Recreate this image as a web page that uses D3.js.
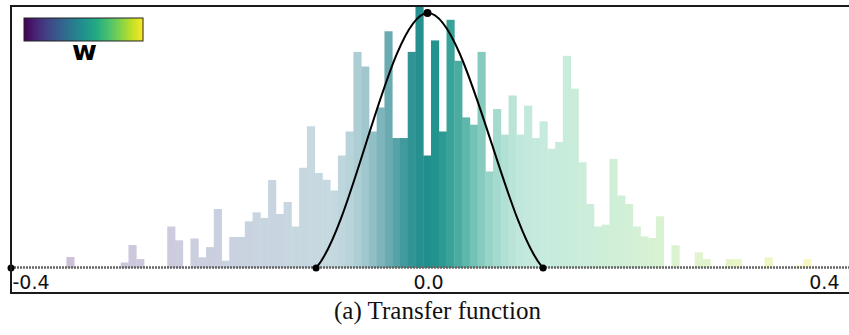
<!DOCTYPE html>
<html><head><meta charset="utf-8">
<script src="https://cdn.jsdelivr.net/npm/d3@7"></script>
<style>
html,body{margin:0;padding:0;background:#fff;}
svg{display:block;}
</style></head><body>
<svg id="chart" width="849" height="335"></svg>
<script>
// Histogram of the weights w, coloured by value and shaded by the transfer function.
const binStart = -0.3468;   // left edge of the first bin
const binWidth = 0.00745;   // bin width in w units
const counts = [
  4.2, 0, 0, 0, 0, 0, 0, 2.1, 8.8, 3.4,
  0, 0, 0, 15.9, 10.6, 0, 11.3, 4.1, 8.0, 22.6,
  2.8, 11.9, 11.9, 17.9, 21.3, 19.2, 33.7, 20.7, 25.3, 15.9,
  38.4, 54.3, 36.4, 33.8, 29.7, 43.1, 52.3, 82.8, 77.2, 52.3,
  61.5, 90.7, 49.8, 49.8, 82.8, 100, 43.1, 87.2, 52.3, 95.1,
  79.4, 57.7, 54.9, 82.8, 37.0, 60.9, 51.1, 66.1, 51.1, 62.2,
  49.8, 56.2, 45.7, 48.3, 81.3, 68.7, 40.5, 24.5, 15.9, 16.6,
  41.8, 27.8, 24.5, 15.9, 12.1, 11.5, 19.8, 0, 8.7, 0,
  0, 6.0, 3.4, 0, 0, 3.4, 3.4, 0, 0, 0,
  4.1, 0, 0, 0, 1.0, 3.4
];
// Transfer function control points (w, opacity)
const tfX = [-0.4, -0.107, 0.0, 0.111, 0.4];
const tfY = [0, 0, 1, 0, 0];
const tickValues = [-0.4, 0.0, 0.4];
const tickLabels = ["-0.4", "0.0", "0.4"];
const legendLabel = "w";
const caption = "(a) Transfer function";

// Cubic Hermite curve whose tangents are the mean of the neighbouring secants
function curveHermite(context) {
  let xs = [], ys = [];
  return {
    areaStart() {}, areaEnd() {},
    lineStart() { xs = []; ys = []; },
    point(px, py) { xs.push(+px); ys.push(+py); },
    lineEnd() {
      const n = xs.length;
      if (!n) return;
      const sec = d3.range(n - 1).map(i => (ys[i + 1] - ys[i]) / (xs[i + 1] - xs[i]));
      const m = xs.map((_, i) => i === 0 ? sec[0] : i === n - 1 ? sec[n - 2] : (sec[i - 1] + sec[i]) / 2);
      context.moveTo(xs[0], ys[0]);
      for (let i = 0; i < n - 1; i++) {
        const h = (xs[i + 1] - xs[i]) / 3;
        context.bezierCurveTo(xs[i] + h, ys[i] + h * m[i],
                              xs[i + 1] - h, ys[i + 1] - h * m[i + 1],
                              xs[i + 1], ys[i + 1]);
      }
    }
  };
}

const svg = d3.select("#chart");
const x = d3.scaleLinear().domain([-0.4, 0.4]).range([11, 844]);
const y = d3.scaleLinear().domain([0, 100]).range([268, 7]);
const yTf = d3.scaleLinear().domain([0, 1]).range([268, 13]);
const colorT = d3.scaleLinear().domain([-0.4, 0.4]).range([0, 1]).clamp(true);

const tfPts = tfX.map((v, i) => [v, tfY[i]]);
const tfLine = d3.line().x(d => x(d[0])).y(d => yTf(d[1])).curve(curveHermite);

// Sample the curve so each bar can be shaded by the transfer function value
const tmp = svg.append("path").attr("d", tfLine(tfPts)).attr("fill", "none");
const node = tmp.node();
const L = node.getTotalLength();
const samples = d3.range(0, 1601).map(i => node.getPointAtLength(L * i / 1600));
tmp.remove();
function tfAt(px) {
  if (px <= x(tfX[1]) || px >= x(tfX[3])) return 0;
  for (let j = 0; j < samples.length - 1; j++) {
    const a = samples[j], b = samples[j + 1];
    if (px >= a.x && px <= b.x) {
      const t = b.x === a.x ? 0 : (px - a.x) / (b.x - a.x);
      return Math.max(0, yTf.invert(a.y + t * (b.y - a.y)));
    }
  }
  return 0;
}

// Bars
const bins = counts.map((c, i) => ({
  x0: binStart + i * binWidth,
  x1: binStart + (i + 1) * binWidth,
  c
}));
svg.append("g").selectAll("rect").data(bins.filter(d => d.c > 0)).join("rect")
  .attr("x", d => x(d.x0))
  .attr("width", d => x(d.x1) - x(d.x0) + 0.4)
  .attr("y", d => y(d.c))
  .attr("height", d => y(0) - y(d.c))
  .attr("fill", d => {
    const mid = (d.x0 + d.x1) / 2;
    const v = tfAt(x(mid));
    const a = 0.27 + 0.73 * v * v;
    return d3.interpolateRgb("#ffffff", d3.interpolateViridis(colorT(mid)))(a);
  });

// Baseline
svg.append("line")
  .attr("x1", x(-0.4)).attr("x2", 849)
  .attr("y1", 267.5).attr("y2", 267.5)
  .attr("stroke", "#666").attr("stroke-width", 2.5)
  .attr("stroke-dasharray", "2 1");

// Transfer function curve (the raised part between its zero points)
svg.append("defs").append("clipPath").attr("id", "bellClip")
  .append("rect")
  .attr("x", x(tfX[1])).attr("y", 0)
  .attr("width", x(tfX[3]) - x(tfX[1])).attr("height", 267);
svg.append("path")
  .attr("d", tfLine(tfPts))
  .attr("clip-path", "url(#bellClip)")
  .attr("fill", "none").attr("stroke", "#000").attr("stroke-width", 2);
svg.append("g").selectAll("circle").data(tfPts.filter(d => d[0] < 0.4)).join("circle")
  .attr("cx", d => x(d[0])).attr("cy", d => yTf(d[1]))
  .attr("r", d => d[1] > 0 ? 4 : 3.5)
  .attr("fill", "#000");

// Frame
svg.append("rect")
  .attr("x", 11).attr("y", 6).attr("width", 845).attr("height", 287)
  .attr("fill", "none").attr("stroke", "#1a1a1a").attr("stroke-width", 2);

// Tick labels
const axis = d3.axisBottom(x).tickValues(tickValues)
  .tickFormat((d, i) => tickLabels[i]).tickSize(0).tickPadding(0);
const gAxis = svg.append("g").attr("transform", "translate(0,275)").call(axis);
gAxis.select(".domain").remove();
gAxis.selectAll("text")
  .attr("font-family", "'DejaVu Sans', sans-serif")
  .attr("font-size", 19)
  .attr("fill", "#111")
  .attr("dy", "0.72em")
  .attr("text-anchor", (d, i) => i === 0 ? "start" : i === tickValues.length - 1 ? "end" : "middle")
  .attr("dx", (d, i) => i === 0 ? 1 : i === tickValues.length - 1 ? -5 : 0.5);

// Colour legend
const grad = svg.select("defs").append("linearGradient").attr("id", "viridisGrad");
d3.range(0, 1.0001, 0.1).forEach(t => {
  grad.append("stop").attr("offset", t).attr("stop-color", d3.interpolateViridis(t));
});
svg.append("rect")
  .attr("x", 24).attr("y", 18).attr("width", 119).attr("height", 23)
  .attr("fill", "url(#viridisGrad)")
  .attr("stroke", "#222").attr("stroke-width", 1);
svg.append("text")
  .attr("x", 84.5).attr("y", 60)
  .attr("text-anchor", "middle")
  .attr("font-family", "'DejaVu Sans', sans-serif")
  .attr("font-weight", "bold")
  .attr("font-size", 27)
  .attr("fill", "#000")
  .text(legendLabel);

// Caption
svg.append("text")
  .attr("x", 437.5).attr("y", 318.5)
  .attr("text-anchor", "middle")
  .attr("font-family", "'Liberation Serif', serif")
  .attr("font-size", 25)
  .attr("fill", "#111")
  .text(caption);
</script>
</body></html>
